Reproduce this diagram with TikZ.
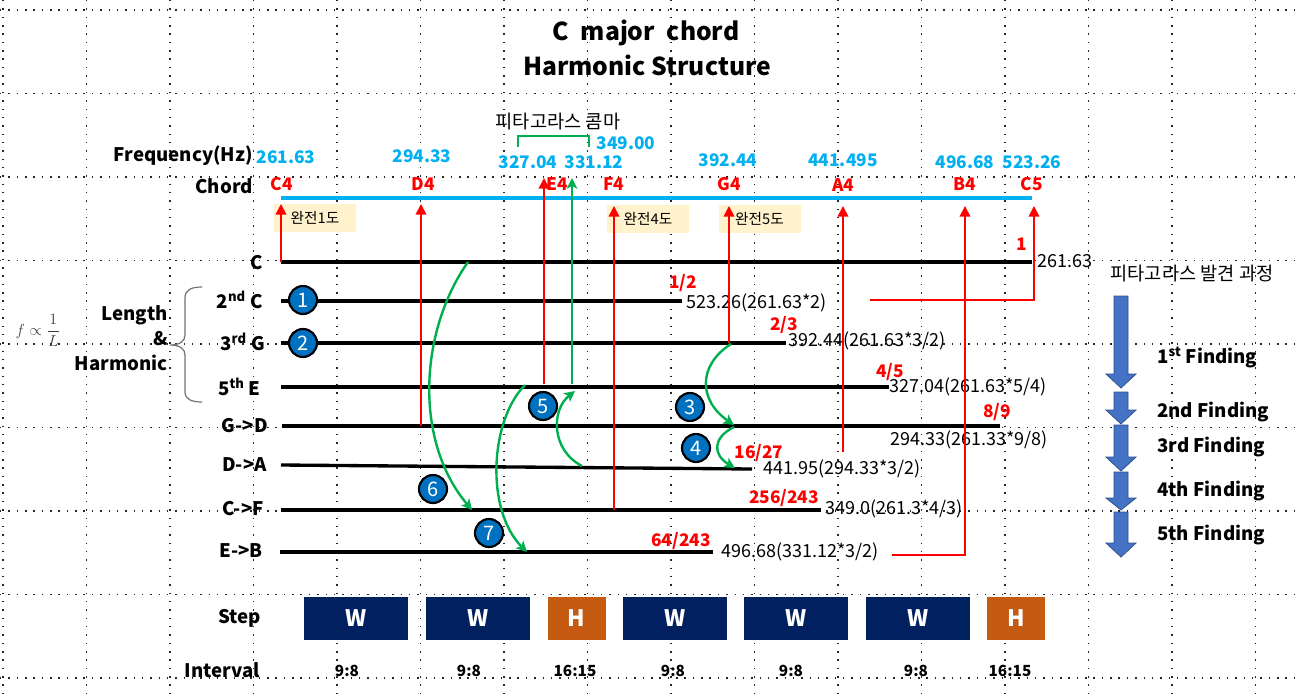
\documentclass[tikz,border=0pt]{standalone}
\usepackage{amsmath}
\usepackage[no-math]{fontspec}
\setmainfont{Noto Sans CJK KR}
\usepackage{tikz}
\usetikzlibrary{arrows.meta, positioning}
\definecolor{freqblue}{HTML}{00B0F0}
\definecolor{commagreen}{HTML}{00B050}
\definecolor{stepnavy}{HTML}{002060}
\definecolor{steporange}{HTML}{C55A11}
\definecolor{orderblue}{HTML}{0070C0}
\definecolor{degreefill}{HTML}{FFF2CC}
\definecolor{findblue}{HTML}{4472C4}
\definecolor{findedge}{HTML}{2F528F}
\tikzstyle{gridline} = [black!85, line width=1.1pt, dash pattern=on 1.1pt off 5.16pt]
\tikzstyle{heading} = [font=\bfseries\fontsize{18.5}{20}\selectfont, inner sep=0pt]
\tikzstyle{rowlabel} = [font=\bfseries\fontsize{14}{16}\selectfont, anchor=east, inner sep=0pt]
\tikzstyle{freq} = [font=\bfseries\fontsize{13}{15}\selectfont, text=freqblue, inner sep=0pt]
\tikzstyle{note} = [font=\bfseries\fontsize{13}{15}\selectfont, text=red, inner sep=0pt]
\tikzstyle{ratio} = [font=\bfseries\fontsize{13}{15}\selectfont, text=red, inner sep=0pt]
\tikzstyle{value} = [font=\fontsize{13.5}{15}\selectfont, anchor=west, inner sep=0pt]
\tikzstyle{degree} = [rectangle, fill=degreefill, minimum width=61.5pt, minimum height=21pt, inner sep=0pt, font=\fontsize{11}{13}\selectfont]
\tikzstyle{scaleline} = [freqblue, line width=2.5pt]
\tikzstyle{string} = [black, line width=2.5pt]
\tikzstyle{notearrow} = [red, line width=1.3pt, -{Triangle[length=8pt, width=8pt]}]
\tikzstyle{greenarrow} = [commagreen, line width=1.8pt, -{Stealth[length=8pt, width=8pt, inset=2pt]}]
\tikzstyle{order} = [circle, draw=black, line width=1.6pt, fill=orderblue, text=white, minimum size=21pt, inner sep=0pt, font=\fontsize{15}{15}\selectfont]
\tikzstyle{whole} = [rectangle, fill=stepnavy, text=white, minimum width=78.5pt, minimum height=32pt, inner sep=0pt, font=\bfseries\fontsize{17}{17}\selectfont]
\tikzstyle{half} = [whole, fill=steporange, minimum width=43.5pt]
\tikzstyle{interval} = [font=\bfseries\fontsize{11.5}{13}\selectfont, inner sep=0pt]
\tikzstyle{finding} = [font=\bfseries\fontsize{14}{16}\selectfont, anchor=west, inner sep=0pt]
\tikzstyle{findarrow} = [fill=findblue, draw=findedge, line width=0.6pt]

\begin{document}
\begin{tikzpicture}[x=0.75pt, y=-0.75pt]
\useasboundingbox (0,0) rectangle (1300,693);
\fill[white] (0,0) rectangle (1300,693);

% Grid
\foreach \gx in {0,...,15}
  \draw[gridline] (3+83.5*\gx,0) -- (3+83.5*\gx,693);
\foreach \gy in {0,...,8}
  \draw[gridline] (0,10+83.5*\gy) -- (1300,10+83.5*\gy);

% Title
\node (title) [heading] at (646,33) {C\hspace{4.5pt} major\hspace{4.5pt} chord};
\node (subtitle) [heading] at (647,65) {Harmonic Structure};

% Frequencies and notes
\node (freqlabel) [rowlabel] at (253,156) {Frequency(Hz)};
\node (chordlabel) [rowlabel] at (253,186) {Chord};
\node (fC4) [freq] at (286,157) {261.63};
\node (fD4) [freq] at (422,156) {294.33};
\node (fE4) [freq] at (528,162) {327.04};
\node (fE4p) [freq] at (594,162) {331.12};
\node (fF4) [freq] at (626,143) {349.00};
\node (fG4) [freq] at (728,160) {392.44};
\node (fA4) [freq] at (843,160) {441.495};
\node (fB4) [freq] at (965,162) {496.68};
\node (fC5) [freq] at (1032,162) {523.26};
\node (comma) [font=\fontsize{14}{15}\selectfont, inner sep=0pt] at (558,122) {피타고라스 콤마};
\coordinate (commaL) at (518,147);
\coordinate (commaR) at (589,147);
\draw[commagreen, line width=1.8pt] (commaL) -- ++(0,-11) -| (commaR);

\node (nC4) [note] at (282,184) {C4};
\node (nD4) [note] at (423,184) {D4};
\node (nE4) [note] at (557,184) {E4};
\node (nF4) [note] at (614,184) {F4};
\node (nG4) [note] at (729,184) {G4};
\node (nA4) [note] at (843,185) {A4};
\node (nB4) [note] at (965,184) {B4};
\node (nC5) [note] at (1032,184) {C5};

\coordinate (scale0) at (281,198);
\coordinate (scale1) at (1032,198);
\draw[scaleline] (scale0) -- (scale1);

% Intervals
\node (unison) [degree] at (315,218) {완전1도};
\node (fourth) [degree] at (648,219) {완전4도};
\node (fifth) [degree] at (759.5,219) {완전5도};

% Strings
\node (lC) [rowlabel] at (263,263) {C};
\node (l2C) [rowlabel] at (263,300) {2\textsuperscript{nd} C};
\node (l3G) [rowlabel] at (265,342) {3\textsuperscript{rd} G};
\node (l5E) [rowlabel] at (261,387) {5\textsuperscript{th} E};
\node (lGD) [rowlabel] at (268,426) {G->D};
\node (lDA) [rowlabel] at (267,465) {D->A};
\node (lCF) [rowlabel] at (264,509) {C->F};
\node (lEB) [rowlabel] at (263,551) {E->B};

\coordinate (sC0) at (281,262);   \coordinate (sC1) at (1032,262);
\coordinate (s2C0) at (281,301);  \coordinate (s2C1) at (682,301);
\coordinate (s3G0) at (281,343);  \coordinate (s3G1) at (786,343);
\coordinate (s5E0) at (281,387);  \coordinate (s5E1) at (889,387);
\coordinate (sGD0) at (282,426);  \coordinate (sGD1) at (1000,426);
\coordinate (sDA0) at (281,465);  \coordinate (sDA1) at (752,469);
\coordinate (sCF0) at (281,510);  \coordinate (sCF1) at (821,510);
\coordinate (sEB0) at (280,552);  \coordinate (sEB1) at (713,552);
\draw[string] (sC0) -- (sC1);
\draw[string] (s2C0) -- (s2C1);
\draw[string] (s3G0) -- (s3G1);
\draw[string] (s5E0) -- (s5E1);
\draw[string] (sGD0) -- (sGD1);
\draw[string] (sDA0) -- (sDA1);
\draw[string] (sCF0) -- (sCF1);
\draw[string] (sEB0) -- (sEB1);

\node (vC) [value] at (1037,261) {261.63};
\node (v2C) [value] at (686,303) {523.26(261.63*2)};
\node (v3G) [value] at (788,341) {392.44(261.63*3/2)};
\node (v5E) [value] at (889,387) {327.04(261.63*5/4)};
\node (vGD) [value] at (890,440) {294.33(261.33*9/8)};
\node (vDA) [value] at (763,469) {441.95(294.33*3/2)};
\node (vCF) [value] at (825,509) {349.0(261.3*4/3)};
\node (vEB) [value] at (721,552) {496.68(331.12*3/2)};

\node (rC) [ratio] at (1022,244) {1};
\node (r2C) [ratio] at (683,283) {1/2};
\node (r3G) [ratio] at (784,325) {2/3};
\node (r5E) [ratio] at (890,372) {4/5};
\node (rGD) [ratio] at (997,412) {8/9};
\node (rDA) [ratio] at (759,453) {16/27};
\node (rCF) [ratio] at (784,498) {256/243};
\node (rEB) [ratio] at (681,541) {64/243};

% Arrows
\coordinate (tC4) at (281,204);
\coordinate (bD4) at (421,426);  \coordinate (tD4) at (421,204);
\coordinate (bE4) at (544,384);  \coordinate (tE4) at (544,178);
\coordinate (bE4p) at (572,384); \coordinate (tE4p) at (572,178);
\coordinate (bF4) at (614,510);  \coordinate (tF4) at (614,206);
\coordinate (bG4) at (729,343);  \coordinate (tG4) at (729,206);
\coordinate (bA4) at (843,452);  \coordinate (tA4) at (843,206);
\coordinate (bB4) at (892,555);  \coordinate (tB4) at (965,206);
\coordinate (bC5) at (870,300);  \coordinate (tC5) at (1034,206);
\draw[notearrow] (sC0) -- (tC4);
\draw[notearrow] (bD4) -- (tD4);
\draw[notearrow] (bE4) -- (tE4);
\draw[notearrow] (bF4) -- (tF4);
\draw[notearrow] (bG4) -- (tG4);
\draw[notearrow] (bA4) -- (tA4);
\draw[notearrow] (bB4) -| (tB4);
\draw[notearrow] (bC5) -| (tC5);
\draw[greenarrow] (bE4p) -- (tE4p);

\coordinate (gA0) at (468,262); \coordinate (gA1) at (472,510);
\coordinate (gB0) at (525,385); \coordinate (gB1) at (527,552);
\coordinate (gC0) at (582,466); \coordinate (gC1) at (575,391);
\coordinate (gD0) at (731,344); \coordinate (gD1) at (734,425);
\coordinate (gE0) at (734,427); \coordinate (gE1) at (735,468);
\draw[greenarrow] (gA0) .. controls (420,330) and (413,440) .. (gA1);
\draw[greenarrow] (gB0) .. controls (490,420) and (485,510) .. (gB1);
\draw[greenarrow] (gC0) .. controls (551,450) and (551,410) .. (gC1);
\draw[greenarrow] (gD0) .. controls (698,365) and (698,400) .. (gD1);
\draw[greenarrow] (gE0) .. controls (712,438) and (713,455) .. (gE1);

% Order of finding
\node (o1) [order] at (303,300) {1};
\node (o2) [order] at (303,343) {2};
\node (o3) [order] at (690,407) {3};
\node (o4) [order] at (696,448) {4};
\node (o5) [order] at (543,406) {5};
\node (o6) [order] at (433,489) {6};
\node (o7) [order] at (489,533) {7};

% Length and harmonic
\draw[black!55, line width=0.9pt] (202,287) .. controls (191,287) and (185,290) .. (185,298)
  -- (185,335) .. controls (185,341) and (180,345) .. (170,345)
  .. controls (180,345) and (185,349) .. (185,355)
  -- (185,392) .. controls (185,399) and (191,402) .. (202,402);
\node (lengthharm) [font=\bfseries\fontsize{14}{18.75}\selectfont, align=right, anchor=east, inner sep=0pt] at (168,338) {Length\\\&\\Harmonic};
\node (law) [text=black!75, font=\fontsize{12.5}{14}\selectfont, inner sep=0pt] at (38,330) {$f \propto \dfrac{1}{L}$};

% Finding process
\node (process) [font=\fontsize{14}{15}\selectfont, inner sep=0pt] at (1192,274) {피타고라스 발견 과정};
\foreach \ya/\yb/\yc in {296/374/388, 392/410/424, 425/457/471, 472/498/510, 512/543/557}
  \filldraw[findarrow] (1114,\ya) -- (1128,\ya) -- (1128,\yb) -- (1136,\yb) -- (1121,\yc) -- (1106,\yb) -- (1114,\yb) -- cycle;
\node (find1) [finding] at (1157,358) {1\textsuperscript{st} Finding};
\node (find2) [finding] at (1157,412) {2nd Finding};
\node (find3) [finding] at (1157,447) {3rd Finding};
\node (find4) [finding] at (1157,491) {4th Finding};
\node (find5) [finding] at (1157,535) {5th Finding};

% Steps
\node (steplabel) [rowlabel] at (261,618) {Step};
\node (intlabel) [rowlabel] at (260,670) {Interval};
\node (step1) [whole] at (356,618.5) {W};
\node (step2) [whole] at (478,618.5) {W};
\node (step3) [half] at (576.5,618.5) {H};
\node (step4) [whole] at (675,618.5) {W};
\node (step5) [whole] at (796,618.5) {W};
\node (step6) [whole] at (918,618.5) {W};
\node (step7) [half] at (1016,618.5) {H};
\node (int1) [interval] at (347,671) {9:8};
\node (int2) [interval] at (469,671) {9:8};
\node (int3) [interval] at (575,671) {16:15};
\node (int4) [interval] at (673,671) {9:8};
\node (int5) [interval] at (791,671) {9:8};
\node (int6) [interval] at (916,671) {9:8};
\node (int7) [interval] at (1010,671) {16:15};

\end{tikzpicture}
\end{document}
